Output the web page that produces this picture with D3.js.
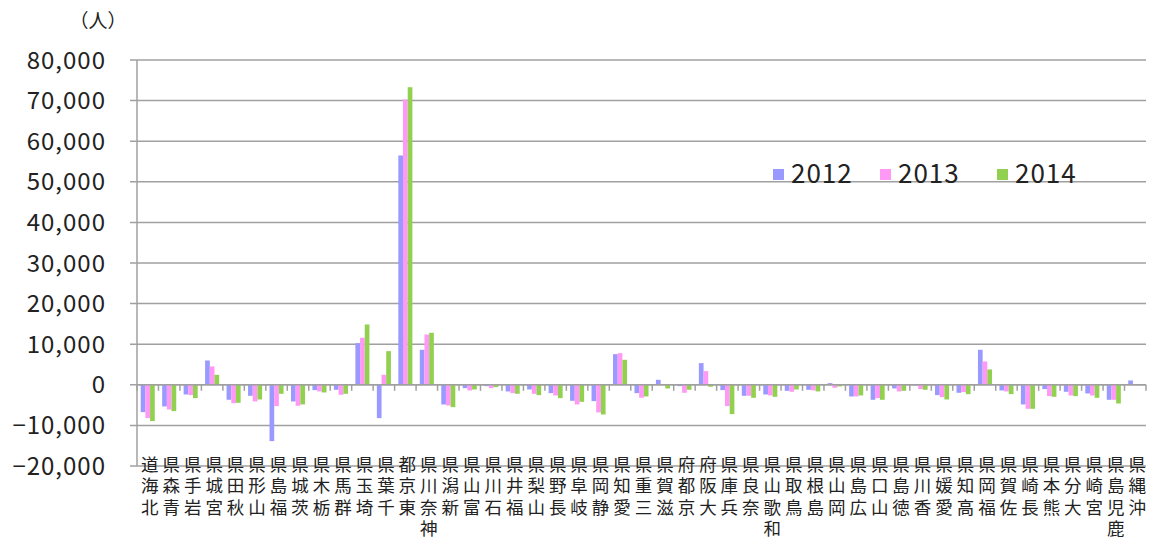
<!DOCTYPE html>
<html><head><meta charset="utf-8">
<script src="https://cdn.jsdelivr.net/npm/d3@7"></script>
<style>body{margin:0;background:#fff}svg{display:block}text{font-family:"Noto Sans CJK JP","Noto Sans",sans-serif;fill:#222}</style>
</head><body><svg id="c" width="1152" height="540"></svg>
<script>
const prefectures = ["北海道","青森県","岩手県","宮城県","秋田県","山形県","福島県","茨城県","栃木県","群馬県","埼玉県","千葉県","東京都","神奈川県","新潟県","富山県","石川県","福井県","山梨県","長野県","岐阜県","静岡県","愛知県","三重県","滋賀県","京都府","大阪府","兵庫県","奈良県","和歌山県","鳥取県","島根県","岡山県","広島県","山口県","徳島県","香川県","愛媛県","高知県","福岡県","佐賀県","長崎県","熊本県","大分県","宮崎県","鹿児島県","沖縄県"];
const seriesNames = ["2012","2013","2014"];
const v2012 = [-6730,-5340,-2380,5990,-3690,-2710,-13870,-4100,-1310,-1230,10260,-8210,56480,8620,-4840,-820,-330,-1640,-1150,-2050,-3940,-4020,7550,-2050,1230,-330,5340,-1310,-2710,-2380,-1480,-1230,410,-2870,-3690,-900,-160,-2540,-1970,8620,-1390,-4840,-1070,-1720,-2130,-3690,1070];
const v2013 = [-8200,-6080,-2540,4520,-4520,-4100,-5250,-5170,-1640,-2460,11580,2460,70270,12390,-5090,-1390,-820,-2050,-2220,-2630,-4840,-6810,7800,-3200,-150,-1970,3370,-5250,-2710,-2630,-1720,-1390,-740,-2870,-3280,-1640,-1070,-3040,-1800,5750,-1640,-5910,-2790,-2630,-2630,-3690,-100];
const v2014 = [-8950,-6480,-3280,2460,-4430,-3610,-2220,-4840,-1890,-2220,14860,8290,73300,12810,-5500,-1150,-570,-2220,-2540,-3280,-4190,-7310,6160,-2870,-900,-1230,-490,-7220,-3200,-2960,-1150,-1640,-410,-2630,-3690,-1480,-1230,-3610,-2300,3780,-2300,-5910,-2960,-2790,-3200,-4600,-100];
const yTicks = [-20000,-10000,0,10000,20000,30000,40000,50000,60000,70000,80000];
const unitLabel = "（人）";
const colors = ["#9999ff","#ff99f5","#92d050"];

const svg = d3.select("#c");
const L=137,R=1146,T=60,B=466;
const x = d3.scaleBand().domain(prefectures).range([L,R]).paddingInner(0.345).paddingOuter(0.1725);
const xs = d3.scaleBand().domain(seriesNames).range([0,x.bandwidth()]);
const y = d3.scaleLinear().domain([-20000,80000]).range([B,T]);
const grid="#a0a0a0";

svg.append("g").selectAll("line").data(yTicks).join("line")
  .attr("x1",L-7).attr("x2",R).attr("y1",d=>y(d)).attr("y2",d=>y(d))
  .attr("stroke",grid).attr("stroke-width",1.5);
svg.append("line").attr("x1",L).attr("x2",L).attr("y1",T).attr("y2",B).attr("stroke",grid).attr("stroke-width",1.5);
const fmt = d3.format(",");
svg.append("g").selectAll("text").data(yTicks).join("text")
  .attr("x",106).attr("y",d=>y(d)).attr("dy","0.36em").attr("text-anchor","end")
  .attr("font-size",24).attr("letter-spacing","1px").text(d=>fmt(d));
svg.append("text").attr("x",98).attr("y",21).attr("dy","0.36em").attr("text-anchor","middle").attr("font-size",19).text(unitLabel);

const all=[v2012,v2013,v2014];
seriesNames.forEach((s,si)=>{
  svg.append("g").selectAll("rect").data(prefectures).join("rect")
    .attr("x",(p)=>x(p)+xs(s)).attr("width",xs.bandwidth())
    .attr("y",(p,i)=>y(Math.max(0,all[si][i]))).attr("height",(p,i)=>Math.abs(y(all[si][i])-y(0)))
    .attr("fill",colors[si]);
});
svg.append("line").attr("x1",L).attr("x2",R).attr("y1",y(0)).attr("y2",y(0)).attr("stroke",grid).attr("stroke-width",1.5);
const step=x.step(), off=(step-x.bandwidth())/2;
const bounds=prefectures.map(p=>x(p)-off).concat([x(prefectures[prefectures.length-1])+x.bandwidth()+off]);
svg.append("g").selectAll("line").data(bounds).join("line")
  .attr("x1",d=>d).attr("x2",d=>d).attr("y1",y(0)).attr("y2",y(0)+6).attr("stroke",grid).attr("stroke-width",1.5);

// x labels: upright characters stacked, last character on top
svg.append("g").selectAll("text").data(prefectures).join("text")
  .attr("text-anchor","middle").attr("font-size",17.5)
  .attr("x",p=>{const cx=x(p)+x.bandwidth()/2+2; return Array.from(p).map(()=>cx).join(" ");})
  .attr("y",p=>{const n=Array.from(p).length; return Array.from(p).map((c,k)=>470.5+(n-1-k)*21.5).join(" ");})
  .text(p=>p);

const lg=[{x:773},{x:880},{x:997}];
seriesNames.forEach((s,i)=>{
  svg.append("rect").attr("x",lg[i].x).attr("y",169).attr("width",11).attr("height",11).attr("fill",colors[i]);
  svg.append("text").attr("x",lg[i].x+18).attr("y",174).attr("dy","0.36em").attr("font-size",26).attr("letter-spacing","1px").text(s);
});
</script></body></html>
